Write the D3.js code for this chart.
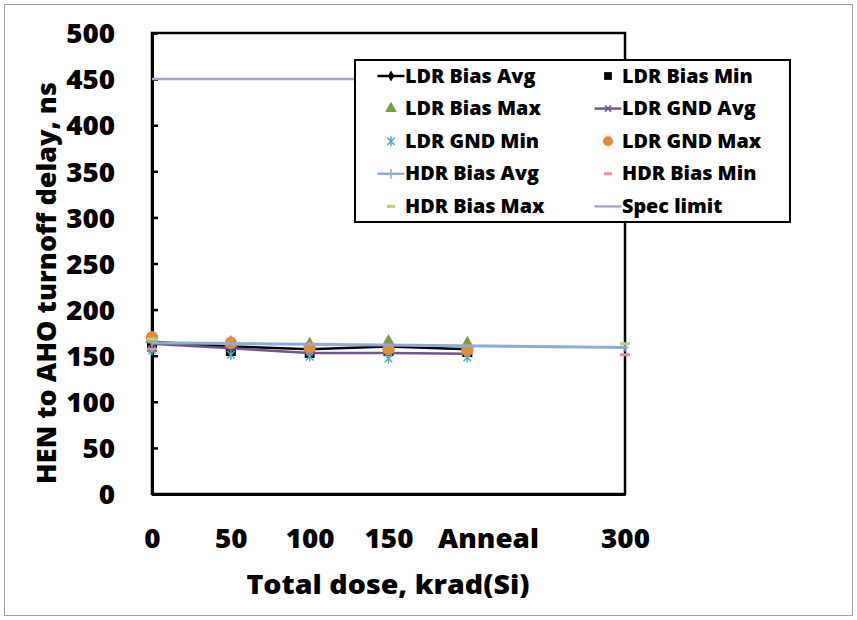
<!DOCTYPE html>
<html><head><meta charset="utf-8">
<script src="https://cdn.jsdelivr.net/npm/d3@7"></script>
<style>
html,body{margin:0;padding:0;background:#fff;}
svg{display:block;}
text{font-family:"Open Sans",Lato,sans-serif;font-weight:800;fill:#000;}
</style></head>
<body>
<script>
// ---- data ----
const doses = [0, 50, 100, 150, 200];
const hdrDoses = [0, 300];
const ldrBiasAvg = [165, 160, 157, 160, 157];
const ldrBiasMin = [160, 155, 153, 155, 154];
const ldrBiasMax = [168, 164, 162, 165, 163];
const ldrGndAvg = [163, 158, 153, 153, 152];
const ldrGndMin = [156, 151, 149, 147, 148];
const ldrGndMax = [170, 164, 159, 157, 156];
const hdrBiasAvg = [164, 159];
const hdrBiasMin = [157, 151];
const hdrBiasMax = [168, 163];
const specLimit = [450, 450];
const xTickValues = [0, 50, 100, 150, 200, 300];
const xTickLabels = ["0", "50", "100", "150", "Anneal", "300"];
const yTickValues = [0, 50, 100, 150, 200, 250, 300, 350, 400, 450, 500];

const W = 857, H = 620;
const svg = d3.select("body").append("svg").attr("width", W).attr("height", H);
svg.append("rect").attr("x", 4.5).attr("y", 4.5).attr("width", 848).attr("height", 611)
  .attr("fill", "#fff").attr("stroke", "#a0a0a0").attr("stroke-width", 1);

const x = d3.scaleLinear().domain([0, 300]).range([152, 625]);
const y = d3.scaleLinear().domain([0, 500]).range([494, 33]);

// horizontal stretch helper for text (keeps it real text)
function stretch(sel, sx) {
  sel.each(function () {
    const t = d3.select(this);
    const tx = +t.attr("x") || 0, ty = +t.attr("y") || 0;
    const prev = t.attr("transform") || "";
    t.attr("transform", `${prev} translate(${tx},${ty}) scale(${sx},1) translate(${-tx},${-ty})`);
  });
}

// plot frame
svg.append("rect").attr("x", x(0)).attr("y", y(500)).attr("width", x(300) - x(0)).attr("height", y(0) - y(500))
  .attr("fill", "none").attr("stroke", "#000").attr("stroke-width", 2.5);

// y axis
const yAxis = d3.axisLeft(y).tickValues(yTickValues).tickSizeInner(-6).tickSizeOuter(0).tickPadding(37);
const ya = svg.append("g").attr("transform", `translate(${x(0)},0)`).call(yAxis);
ya.select(".domain").attr("stroke", "#000").attr("stroke-width", 3);
ya.selectAll(".tick line").attr("stroke", "#000").attr("stroke-width", 2.5);
ya.selectAll(".tick text").attr("font-size", 27).attr("font-family", "Open Sans").attr("font-weight", 800).attr("fill", "#000").attr("dy", "0.36em");
stretch(ya.selectAll(".tick text"), 1.03);

// x axis
const xAxis = d3.axisBottom(x).tickValues(xTickValues).tickFormat((d, i) => xTickLabels[i]).tickSize(0).tickPadding(35);
const xa = svg.append("g").attr("transform", `translate(0,${y(0)})`).call(xAxis);
xa.select(".domain").attr("stroke", "#000").attr("stroke-width", 3);
xa.selectAll(".tick text").attr("font-size", 27).attr("font-family", "Open Sans").attr("font-weight", 800).attr("fill", "#000").attr("dy", "0.71em")
  .attr("dx", (d, i) => xTickLabels[i] === "Anneal" ? 20 : 0);
stretch(xa.selectAll(".tick text"), 1.03);

// titles
const xt = svg.append("text").attr("x", 388).attr("y", 594).attr("text-anchor", "middle").attr("font-size", 27).text("Total dose, krad(Si)");
stretch(xt, 1.06);
svg.append("text").attr("transform", "translate(56,283) rotate(-90)").attr("text-anchor", "middle").attr("font-size", 27).text("HEN to AHO turnoff delay, ns");

// series drawing helpers
const line = d3.line().x(d => x(d[0])).y(d => y(d[1]));
const pts = (xs, ys) => xs.map((v, i) => [v, ys[i]]);
const plot = svg.append("g");
function drawLine(data, color, w) {
  plot.append("path").datum(data).attr("d", line).attr("fill", "none").attr("stroke", color).attr("stroke-width", w);
}
function drawSym(data, type, size, color) {
  plot.selectAll(null).data(data).enter().append("path")
    .attr("transform", d => `translate(${x(d[0])},${y(d[1])})`)
    .attr("d", d3.symbol().type(type).size(size)).attr("fill", color);
}
function crossPath(cx, cy, s, kind) {
  const k = s * 0.75;
  let p = "";
  if (kind === "plus" || kind === "star") p += `M${cx},${cy - s}L${cx},${cy + s}`;
  if (kind === "plus") p += `M${cx - s},${cy}L${cx + s},${cy}`;
  if (kind === "x" || kind === "star") p += `M${cx - k},${cy - k}L${cx + k},${cy + k}M${cx - k},${cy + k}L${cx + k},${cy - k}`;
  return p;
}
function drawCross(data, color, s, kind) {
  plot.selectAll(null).data(data).enter().append("path")
    .attr("d", d => crossPath(x(d[0]), y(d[1]), s, kind))
    .attr("stroke", color).attr("stroke-width", 1.5).attr("fill", "none");
}
function drawDash(data, color) {
  plot.selectAll(null).data(data).enter().append("line")
    .attr("x1", d => x(d[0]) - 5).attr("x2", d => x(d[0]) + 5)
    .attr("y1", d => y(d[1])).attr("y2", d => y(d[1]))
    .attr("stroke", color).attr("stroke-width", 3);
}

const cBlack = "#000", cGreen = "#77a043", cPurple = "#70558f", cCyan = "#4bacc6", cOrange = "#e8893a",
  cBlue = "#8eaad6", cPink = "#e39391", cLgreen = "#b8d08c", cSpec = "#b3a2c7";

drawLine(pts(hdrDoses, specLimit), cSpec, 2.5);
drawLine(pts(doses, ldrBiasAvg), cBlack, 2.5);
drawSym(pts(doses, ldrBiasAvg), d3.symbolDiamond, 40, cBlack);
drawSym(pts(doses, ldrBiasMin), d3.symbolSquare, 100, cBlack);
drawSym(pts(doses, ldrBiasMax), d3.symbolTriangle, 80, cGreen);
drawLine(pts(doses, ldrGndAvg), cPurple, 2.5);
drawCross(pts(doses, ldrGndAvg), cPurple, 4, "x");
drawCross(pts(doses, ldrGndMin), cCyan, 5, "star");
drawSym(pts(doses, ldrGndMax), d3.symbolCircle, 120, cOrange);
drawLine(pts(hdrDoses, hdrBiasAvg), cBlue, 3);
drawCross(pts(hdrDoses, hdrBiasAvg), cBlue, 4, "plus");
drawDash(pts(hdrDoses, hdrBiasMin), cPink);
drawDash(pts(hdrDoses, hdrBiasMax), cLgreen);

// legend
const leg = svg.append("g");
leg.append("rect").attr("x", 355).attr("y", 60).attr("width", 435).attr("height", 162)
  .attr("fill", "#fff").attr("stroke", "#000").attr("stroke-width", 2);
const legendItems = [
  {name: "LDR Bias Avg", kind: "lineSym", color: cBlack, sym: d3.symbolDiamond},
  {name: "LDR Bias Min", kind: "sym", color: cBlack, sym: d3.symbolSquare},
  {name: "LDR Bias Max", kind: "sym", color: cGreen, sym: d3.symbolTriangle},
  {name: "LDR GND Avg", kind: "lineX", color: cPurple},
  {name: "LDR GND Min", kind: "star", color: cCyan},
  {name: "LDR GND Max", kind: "sym", color: cOrange, sym: d3.symbolCircle},
  {name: "HDR Bias Avg", kind: "linePlus", color: cBlue},
  {name: "HDR Bias Min", kind: "dash", color: cPink},
  {name: "HDR Bias Max", kind: "dash", color: cLgreen},
  {name: "Spec limit", kind: "line", color: cSpec}
];
legendItems.forEach((it, i) => {
  const col = i % 2, row = Math.floor(i / 2);
  const sx = col === 0 ? 391 : 608, ty = 76 + row * 32.6;
  const gi = leg.append("g");
  if (it.kind.startsWith("line")) {
    gi.append("line").attr("x1", sx - 13.5).attr("x2", sx + 13.5).attr("y1", ty).attr("y2", ty).attr("stroke", it.color).attr("stroke-width", 2.5);
  }
  if (it.kind === "lineSym" || it.kind === "sym") {
    const sz = it.sym === d3.symbolDiamond ? 36 : it.sym === d3.symbolCircle ? 80 : 60;
    gi.append("path").attr("transform", `translate(${sx},${ty})`).attr("d", d3.symbol().type(it.sym).size(sz)).attr("fill", it.color);
  }
  if (it.kind === "lineX") gi.append("path").attr("d", crossPath(sx, ty, 4, "x")).attr("stroke", it.color).attr("stroke-width", 1.5);
  if (it.kind === "linePlus") gi.append("path").attr("d", `M${sx},${ty - 5}L${sx},${ty + 5}`).attr("stroke", it.color).attr("stroke-width", 1.5);
  if (it.kind === "star") gi.append("path").attr("d", crossPath(sx, ty, 5, "star")).attr("stroke", it.color).attr("stroke-width", 1.5);
  if (it.kind === "dash") {
    gi.append("line").attr("x1", sx - 4).attr("x2", sx + 4).attr("y1", ty).attr("y2", ty).attr("stroke", it.color).attr("stroke-width", 3);
  }
  const t = gi.append("text").attr("x", sx + 14).attr("y", ty).attr("dy", "0.36em").attr("font-size", 18.5).text(it.name);
  stretch(t, 1.07);
});
</script>
</body></html>
